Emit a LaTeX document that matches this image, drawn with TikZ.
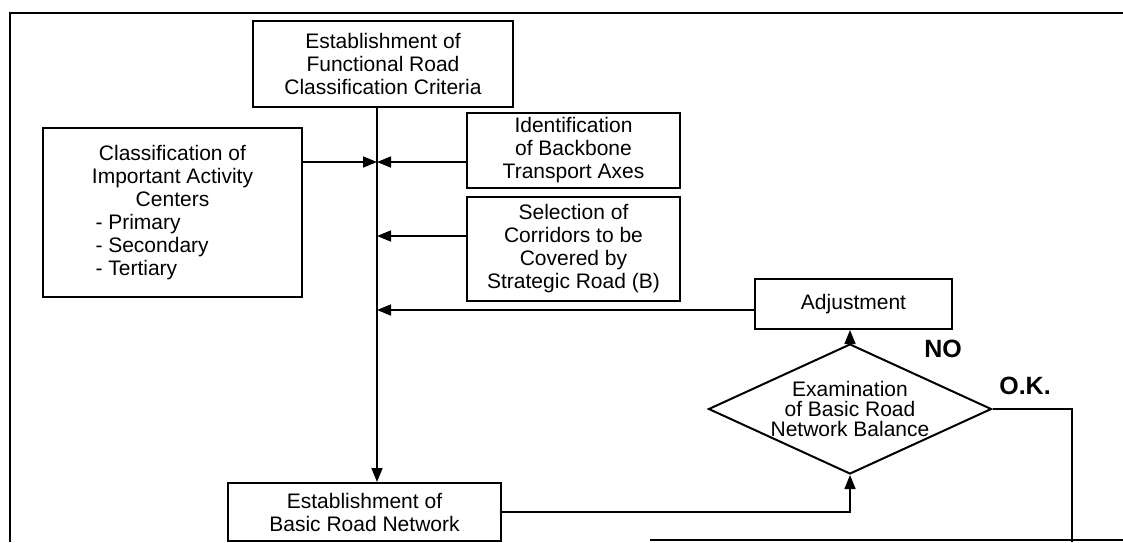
\documentclass[tikz,border=0pt]{standalone}
\usepackage{fontspec}
\setmainfont{Liberation Sans}
\usetikzlibrary{shapes.geometric,arrows.meta}

\begin{document}
\begin{tikzpicture}[x=1pt, y=-1pt,
		box/.style = {draw, line width=2pt, inner sep=0pt, align=center, font=\fontsize{21}{23}\selectfont},
		arr/.style = {line width=1.6pt, -{Triangle[length=14pt, width=11pt]}},
		link/.style = {line width=1.6pt},
		answer/.style = {font=\bfseries\fontsize{25}{25}\selectfont}]
			\useasboundingbox (0,0) rectangle (1123,542);
			%outer frame
			\draw[line width=2.6pt] (10,542) -- (10,13) -- (1123,13);
			\draw[line width=2pt] (650,540) -- (1123,540);
			%boxes
			\node[box, minimum width=260, minimum height=86] (crit) at (383,64) {Establishment of\\Functional Road\\Classification Criteria};
			\node[box, minimum width=259, minimum height=169] (acts) at (172.5,212.5) {Classification of\\Important Activity\\Centers\\\makebox[154pt][l]{- Primary}\\\makebox[154pt][l]{- Secondary}\\\makebox[154pt][l]{- Tertiary}};
			\node[box, minimum width=213, minimum height=75] (axes) at (573.5,150.5) {Identification\\of Backbone\\Transport Axes};
			\node[box, minimum width=213, minimum height=104] (corr) at (573.5,249) {Selection of\\Corridors to be\\Covered by\\Strategic Road (B)};
			\node[box, minimum width=197, minimum height=50] (adj) at (853.5,304) {Adjustment};
			\node[box, diamond, aspect=2.18, minimum width=283, minimum height=130, font=\fontsize{21}{20}\selectfont] (exam) at (850,409) {Examination\\of Basic Road\\Network Balance};
			\node[box, minimum width=273, minimum height=58] (net) at (364.5,512) {Establishment of\\Basic Road Network};
			%answers
			\node[answer] (no) at (943,349) {NO};
			\node[answer] (ok) at (1025,386) {O.K.};
			%main line and inputs
			\coordinate (spine) at (377,0);
			\coordinate (j1) at (377,162);
			\coordinate (j2) at (377,236);
			\coordinate (j3) at (377,310);
			\draw[arr] (crit.south -| spine) -- (net.north -| spine);
			\draw[arr] (acts.east |- j1) -- (j1);
			\draw[arr] (axes.west |- j1) -- (j1);
			\draw[arr] (corr.west |- j2) -- (j2);
			\draw[arr] (adj.west |- j3) -- (j3);
			%check loop
			\draw[arr] (net.east) -| (exam.south);
			\draw[arr] (exam.north) -- (exam.north |- adj.south);
			\coordinate (okend) at (1072,542);
			\draw[link] (exam.east) -| (okend);
		\end{tikzpicture}
\end{document}
